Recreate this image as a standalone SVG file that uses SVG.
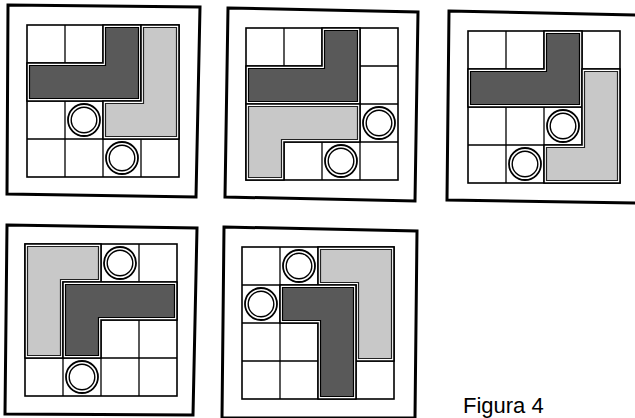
<svg xmlns="http://www.w3.org/2000/svg" width="635" height="418" viewBox="0 0 635 418">
<style>
.frame{fill:#fff;stroke:#000;stroke-width:3;stroke-linejoin:miter}
.grid{fill:none;stroke:#000;stroke-width:1.3}
.gbox{fill:#fff;stroke:#000;stroke-width:1.6}
.pout{fill:#fff;stroke:#000;stroke-width:1.6;stroke-linejoin:miter}
.dark{fill:#595959;stroke:#000;stroke-width:1.2}
.light{fill:#c8c8c8;stroke:#222;stroke-width:1.2}
.ring1{fill:#fff;stroke:#000;stroke-width:1.8}
.ring2{fill:#fff;stroke:#000;stroke-width:1.4}
.label{font-family:"Liberation Sans",Arial,sans-serif;font-size:22px;fill:#000}
</style>
<defs>
<g id="board">
<rect class="gbox" x="0" y="0" width="152" height="152"/>
<path class="grid" d="M38 0V152M76 0V152M114 0V152M0 38H152M0 76H152M0 114H152"/>
</g>
<g id="coin">
<circle class="ring1" r="16"/>
<circle class="ring2" r="12.8"/>
</g>
</defs>

<g id="panel1">
<polygon class="frame" points="8,5 200,7 196,197 7,194"/>
<g transform="translate(27,25)">
<use href="#board"/>
<polygon class="pout" points="0,38 76,38 76,0 114,0 114,76 0,76"/>
<polygon class="dark" points="2.5,40.5 78.5,40.5 78.5,2.5 111.5,2.5 111.5,73.5 2.5,73.5"/>
<polygon class="pout" points="114,0 152,0 152,114 76,114 76,76 114,76"/>
<polygon class="light" points="116.5,2.5 149.5,2.5 149.5,111.5 78.5,111.5 78.5,78.5 116.5,78.5"/>
<use href="#coin" x="57" y="95"/>
<use href="#coin" x="95" y="133"/>
</g>
</g>

<g id="panel2">
<polygon class="frame" points="228,8 418,12 415,201 225,197"/>
<g transform="translate(246,28)">
<use href="#board"/>
<polygon class="pout" points="0,38 76,38 76,0 114,0 114,76 0,76"/>
<polygon class="dark" points="2.5,40.5 78.5,40.5 78.5,2.5 111.5,2.5 111.5,73.5 2.5,73.5"/>
<polygon class="pout" points="0,76 114,76 114,114 38,114 38,152 0,152"/>
<polygon class="light" points="2.5,78.5 111.5,78.5 111.5,111.5 35.5,111.5 35.5,149.5 2.5,149.5"/>
<use href="#coin" x="133" y="95"/>
<use href="#coin" x="95" y="133"/>
</g>
</g>

<g id="panel3">
<polygon class="frame" points="449,11 640,15 640,203 447,200"/>
<g transform="translate(468,31)">
<use href="#board"/>
<polygon class="pout" points="0,38 76,38 76,0 114,0 114,76 0,76"/>
<polygon class="dark" points="2.5,40.5 78.5,40.5 78.5,2.5 111.5,2.5 111.5,73.5 2.5,73.5"/>
<polygon class="pout" points="114,38 152,38 152,152 76,152 76,114 114,114"/>
<polygon class="light" points="116.5,40.5 149.5,40.5 149.5,149.5 78.5,149.5 78.5,116.5 116.5,116.5"/>
<use href="#coin" x="95" y="95"/>
<use href="#coin" x="57" y="133"/>
</g>
</g>

<g id="panel4">
<polygon class="frame" points="7,225 197,228 193,415 5,414"/>
<g transform="translate(25,244)">
<use href="#board"/>
<polygon class="pout" points="0,0 76,0 76,38 38,38 38,114 0,114"/>
<polygon class="light" points="2.5,2.5 73.5,2.5 73.5,35.5 35.5,35.5 35.5,111.5 2.5,111.5"/>
<polygon class="pout" points="38,38 152,38 152,76 76,76 76,114 38,114"/>
<polygon class="dark" points="40.5,40.5 149.5,40.5 149.5,73.5 73.5,73.5 73.5,111.5 40.5,111.5"/>
<use href="#coin" x="95" y="19"/>
<use href="#coin" x="57" y="133"/>
</g>
</g>

<g id="panel5">
<polygon class="frame" points="224,227 417,231 415,418 222,418"/>
<g transform="translate(242,247)">
<use href="#board"/>
<polygon class="pout" points="76,0 152,0 152,114 114,114 114,38 76,38"/>
<polygon class="light" points="78.5,2.5 149.5,2.5 149.5,111.5 116.5,111.5 116.5,35.5 78.5,35.5"/>
<polygon class="pout" points="38,38 114,38 114,152 76,152 76,76 38,76"/>
<polygon class="dark" points="40.5,40.5 111.5,40.5 111.5,149.5 78.5,149.5 78.5,73.5 40.5,73.5"/>
<use href="#coin" x="57" y="19"/>
<use href="#coin" x="19" y="57"/>
</g>
</g>

<g id="connectors"></g>

<text class="label" x="463" y="413">Figura 4</text>
</svg>
